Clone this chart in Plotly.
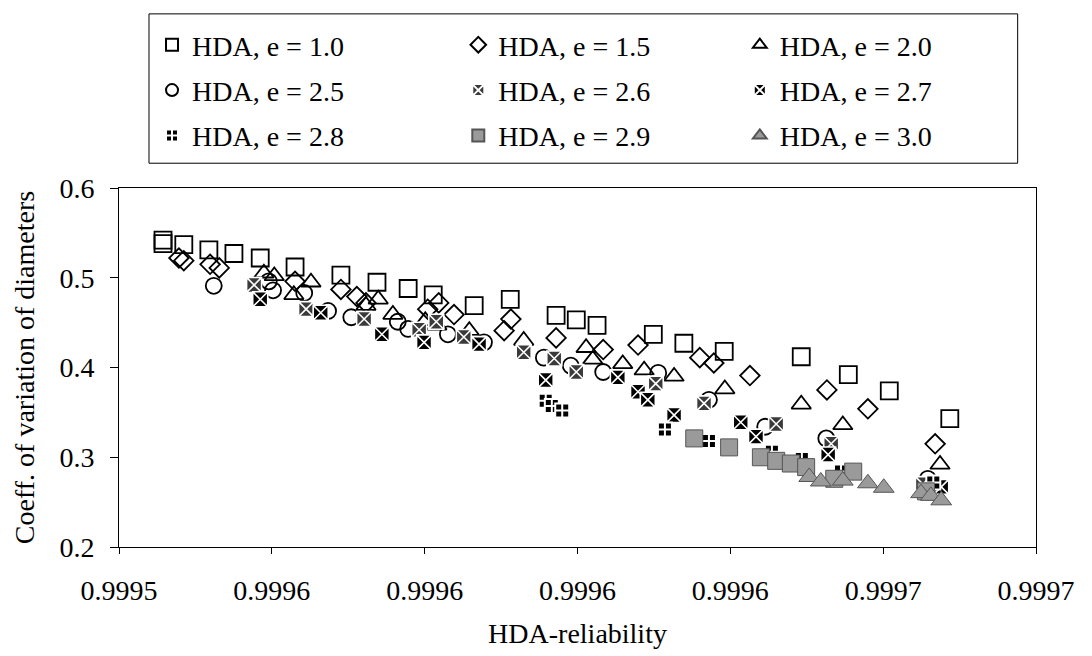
import plotly.graph_objects as go

# ---------------- data ----------------
x_e10 = [0.9995572, 0.9995572, 0.9995606, 0.9995647, 0.9995688, 0.9995731, 0.9995788, 0.9995863,
         0.9995922, 0.9995973, 0.9996014, 0.9996081, 0.9996140, 0.9996215, 0.9996248, 0.9996282,
         0.9996374, 0.9996424, 0.9996490, 0.9996616, 0.9996693, 0.9996760, 0.9996859]
y_e10 = [0.542, 0.538, 0.537, 0.531, 0.527, 0.522, 0.512, 0.503, 0.495, 0.488, 0.481, 0.469,
         0.476, 0.458, 0.453, 0.447, 0.437, 0.427, 0.418, 0.412, 0.392, 0.374, 0.343]

x_e15 = [0.9995598, 0.9995606, 0.9995649, 0.9995664, 0.9995788, 0.9995863, 0.9995889, 0.9995904,
         0.9996005, 0.9996023, 0.9996048, 0.9996130, 0.9996141, 0.9996215, 0.9996292, 0.9996349,
         0.9996450, 0.9996473, 0.9996532, 0.9996658, 0.9996725, 0.9996835]
y_e15 = [0.522, 0.519, 0.515, 0.511, 0.496, 0.487, 0.479, 0.472, 0.465, 0.472, 0.459, 0.441,
         0.454, 0.433, 0.420, 0.425, 0.411, 0.405, 0.391, 0.375, 0.354, 0.315]

x_e20 = [0.9995737, 0.9995754, 0.9995786, 0.9995814, 0.9995904, 0.9995924, 0.9995948, 0.9996001,
         0.9996020, 0.9996073, 0.9996162, 0.9996264, 0.9996275, 0.9996324, 0.9996359, 0.9996408,
         0.9996491, 0.9996616, 0.9996684, 0.9996843]
y_e20 = [0.505, 0.502, 0.481, 0.495, 0.469, 0.476, 0.459, 0.452, 0.447, 0.441, 0.430, 0.422,
         0.409, 0.404, 0.397, 0.390, 0.376, 0.359, 0.336, 0.292]

x_e25 = [0.9995655, 0.9995745, 0.9995752, 0.9995803, 0.9995842, 0.9995880, 0.9995956, 0.9995973,
         0.9996038, 0.9996097, 0.9996195, 0.9996239, 0.9996292, 0.9996382, 0.9996465, 0.9996557,
         0.9996657, 0.9996823]
y_e25 = [0.491, 0.496, 0.486, 0.483, 0.463, 0.456, 0.451, 0.443, 0.437, 0.428, 0.411, 0.402,
         0.395, 0.394, 0.364, 0.334, 0.321, 0.276]

x_e26 = [0.9995721, 0.9995806, 0.9995901, 0.9995991, 0.9996019, 0.9996064, 0.9996162, 0.9996212,
         0.9996248, 0.9996378, 0.9996457, 0.9996575, 0.9996665, 0.9996815]
y_e26 = [0.492, 0.465, 0.454, 0.442, 0.451, 0.434, 0.417, 0.410, 0.395, 0.382, 0.360, 0.337,
         0.315, 0.270]

x_e27 = [0.9995731, 0.9995830, 0.9995930, 0.9995999, 0.9996089, 0.9996198, 0.9996316, 0.9996349,
         0.9996365, 0.9996408, 0.9996517, 0.9996542, 0.9996660, 0.9996845]
y_e27 = [0.476, 0.461, 0.437, 0.428, 0.426, 0.386, 0.389, 0.373, 0.364, 0.347, 0.339, 0.323,
         0.303, 0.267]

x_e28 = [0.9996198, 0.9996208, 0.9996225, 0.9996393, 0.9996465, 0.9996568, 0.9996617, 0.9996681,
         0.9996832]
y_e28 = [0.363, 0.357, 0.352, 0.331, 0.318, 0.306, 0.298, 0.284, 0.272]

x_e29 = [0.9996441, 0.9996498, 0.9996550, 0.9996575, 0.9996599, 0.9996624, 0.9996670, 0.9996701,
         0.9996820]
y_e29 = [0.321, 0.311, 0.300, 0.296, 0.293, 0.289, 0.276, 0.284, 0.262]

x_e30 = [0.9996629, 0.9996648, 0.9996684, 0.9996725, 0.9996751, 0.9996812, 0.9996828, 0.9996845]
y_e30 = [0.278, 0.273, 0.274, 0.271, 0.266, 0.260, 0.257, 0.252]

x_tickvals = [0.99955, 0.999575, 0.9996, 0.999625, 0.99965, 0.999675, 0.9997]
x_ticktext = ["0.9995", "0.9996", "0.9996", "0.9996", "0.9996", "0.9997", "0.9997"]
y_tickvals = [0.2, 0.3, 0.4, 0.5, 0.6]

FONT = "Liberation Serif, Times New Roman, serif"
FS = 28

series = [
    ("HDA, e = 1.0", x_e10, y_e10, dict(symbol="square-open", size=17, color="black", line=dict(width=1.8, color="black")), "legend"),
    ("HDA, e = 1.5", x_e15, y_e15, dict(symbol="diamond-open", size=15, color="black", line=dict(width=1.8, color="black")), "legend2"),
    ("HDA, e = 2.0", x_e20, y_e20, dict(symbol="triangle-up-open", size=17, color="black", line=dict(width=1.8, color="black")), "legend3"),
    ("HDA, e = 2.5", x_e25, y_e25, dict(symbol="circle-open", size=16, color="black", line=dict(width=1.8, color="black")), "legend"),
    ("HDA, e = 2.6", x_e26, y_e26, dict(symbol="square-x", size=15, color="#3a3a3a", line=dict(width=1.6, color="white")), "legend2"),
    ("HDA, e = 2.7", x_e27, y_e27, dict(symbol="square-x", size=15, color="black", line=dict(width=1.6, color="white")), "legend3"),
    ("HDA, e = 2.8", x_e28, y_e28, dict(symbol="square-cross", size=14, color="black", line=dict(width=2, color="white")), "legend"),
    ("HDA, e = 2.9", x_e29, y_e29, dict(symbol="square", size=17, color="#9a9a9a", line=dict(width=1, color="#555555")), "legend2"),
    ("HDA, e = 3.0", x_e30, y_e30, dict(symbol="triangle-up", size=18, color="#9a9a9a", line=dict(width=1, color="#555555")), "legend3"),
]

fig = go.Figure()
for i, (name, xs, ys, mk, lg) in enumerate(series):
    fig.add_trace(go.Scatter(
        x=xs, y=ys, mode="markers", name=name, marker=mk,
        legend=lg, legendgroup="g%d" % i,
    ))

leg_common = dict(
    orientation="v", yanchor="top", xanchor="left",
    font=dict(family=FONT, size=FS, color="black"),
    bgcolor="rgba(0,0,0,0)", borderwidth=0,
    tracegroupgap=6, itemsizing="constant",
)

fig.update_layout(
    width=1092, height=656,
    paper_bgcolor="white", plot_bgcolor="white",
    margin=dict(l=111, r=64, t=178, b=117),
    font=dict(family=FONT, size=FS, color="black"),
    showlegend=True,
    legend=dict(x=0.036, y=1.468, **leg_common),
    legend2=dict(x=0.370, y=1.468, **leg_common),
    legend3=dict(x=0.677, y=1.468, **leg_common),
    xaxis=dict(
        range=[0.99955, 0.9997], tickvals=x_tickvals, ticktext=x_ticktext,
        showgrid=False, zeroline=False, showline=True, linecolor="black", linewidth=1,
        mirror=True, ticks="outside", ticklen=6, tickcolor="black",
        ticklabelstandoff=12,
        title=dict(text="HDA-reliability", font=dict(family=FONT, size=FS), standoff=18),
        tickfont=dict(family=FONT, size=FS),
    ),
    yaxis=dict(
        range=[0.2, 0.6], tickvals=y_tickvals, tickformat=".1f",
        showgrid=False, zeroline=False, showline=True, linecolor="black", linewidth=1,
        mirror=True, ticks="outside", ticklen=8, tickcolor="black",
        ticklabelstandoff=10,
        title=dict(text="Coeff. of variation of diameters", font=dict(family=FONT, size=FS), standoff=16),
        tickfont=dict(family=FONT, size=FS),
    ),
    shapes=[dict(type="rect", xref="paper", yref="paper",
                 x0=0.0327, x1=0.980, y0=1.069, y1=1.485,
                 line=dict(color="black", width=1), fillcolor="rgba(0,0,0,0)")],
)

fig.write_html("out.html")
